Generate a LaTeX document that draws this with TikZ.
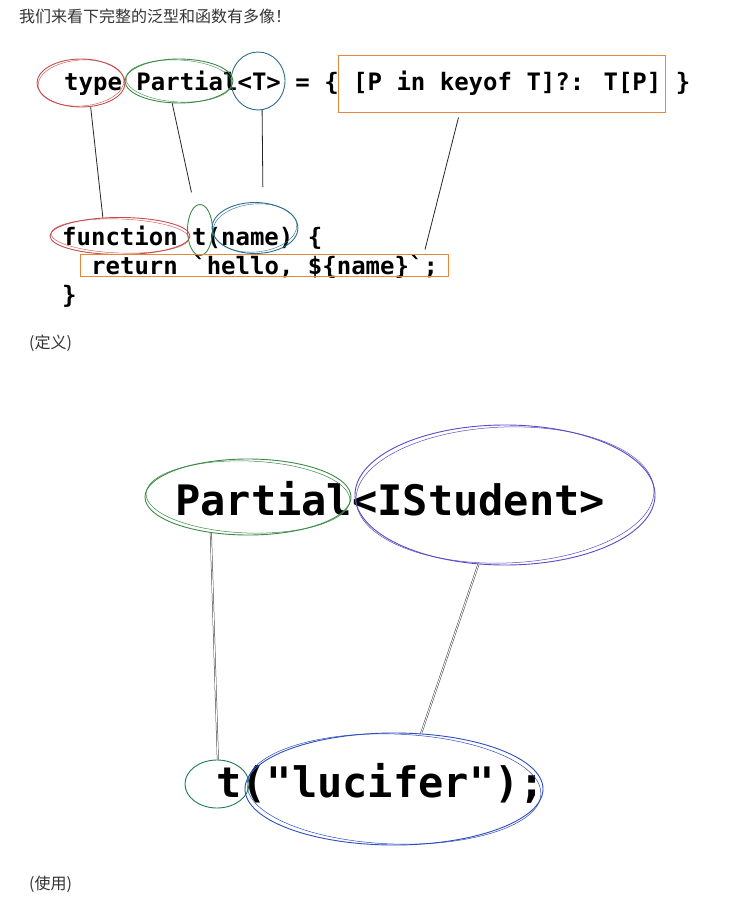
\documentclass[tikz,border=0pt]{standalone}
\usepackage{fontspec}
\newfontfamily\codefont{DejaVu Sans Mono}
\newfontfamily\cjkfont{Noto Sans CJK SC}
\usetikzlibrary{shapes.geometric}

\definecolor{skred}{HTML}{C94C4C}
\definecolor{skgreen}{HTML}{3D8A48}
\definecolor{skteal}{HTML}{2C6F8C}
\definecolor{skorange}{HTML}{E8873A}
\definecolor{skpurple}{HTML}{5B4BC4}
\definecolor{skblue}{HTML}{2F4DBE}
\definecolor{skdkgreen}{HTML}{1F7A55}

\tikzset{
  ring/.style={ellipse,draw,inner sep=0pt,line width=0.9pt},
  box/.style={rectangle,draw,inner sep=0pt,line width=0.9pt},
  code/.style={anchor=base west,inner sep=0pt,font=\codefont\bfseries\fontsize{24}{29}\selectfont},
  bigcode/.style={anchor=base west,inner sep=0pt,font=\codefont\bfseries\fontsize{42}{50}\selectfont},
  note/.style={anchor=west,inner sep=0pt,text=black!80,font=\cjkfont\fontsize{16}{19}\selectfont},
  link/.style={line width=0.8pt,black!85},
  duallink/.style={draw=black!75,line width=0.5pt,double,double distance=0.9pt},
}

\begin{document}
\begin{tikzpicture}[x=1pt,y=-1pt]
  \useasboundingbox[fill=white] (0,0) rectangle (747,901);

  \node[note] (intro) at (19,16) {我们来看下完整的泛型和函数有多像！};

  % definition
  \node[code] (defL) at (64,91) {type Partial<T> = \{ [P in keyof T]?: T[P] \}};
  \node[code] (fnL) at (62,245) {function t(name) \{};
  \node[code] (retL) at (91,274) {return \symbol{96}hello, \$\{name\}\symbol{96};};
  \node[code] (clsL) at (62,303) {\}};
  \node[note] (defN) at (29,343) {(定义)};

  \node[ring,draw=skred,minimum width=88,minimum height=48] (tyE) at (81,83) {};
  \node[ring,draw=skgreen,minimum width=108,minimum height=44] (paE) at (179,81) {};
  \node[ring,draw=skteal,minimum width=54,minimum height=58] (tpE) at (258,81) {};
  \node[box,draw=skorange,minimum width=327,minimum height=57] (kvB) at (501.5,83.5) {};
  \node[ring,draw=skred,minimum width=140,minimum height=37] (fnE) at (120,236) {};
  \node[ring,draw=skgreen,minimum width=25,minimum height=51] (tE) at (200,230) {};
  \node[ring,draw=skteal,minimum width=86,minimum height=51] (nmE) at (255,228) {};
  \node[box,draw=skorange,minimum width=368,minimum height=22] (retB) at (264,265) {};

  % second strokes, hand drawn look
  \draw[skred,line width=0.4pt,rotate around={4:(tyE.center)}] (tyE.center) ellipse [x radius=43,y radius=23];
  \draw[skgreen,line width=0.4pt,rotate around={-3:(paE.center)}] (paE.center) ellipse [x radius=53,y radius=21];
  \draw[skred,line width=0.4pt,rotate around={-2:(fnE.center)}] (fnE.center) ellipse [x radius=69,y radius=17];
  \draw[skteal,line width=0.4pt,rotate around={5:(nmE.center)}] (nmE.center) ellipse [x radius=42,y radius=24];

  \draw[link] (tyE.-68) -- (fnE.133);
  \draw[link,shorten >=12pt] (paE.-107) -- ([xshift=-6pt]tE.north);
  \draw[link,shorten >=15pt] (tpE.-82) -- ([xshift=8pt]nmE.north);
  \draw[link] ([xshift=-43pt,yshift=-5pt]kvB.south) -- ([xshift=161pt,yshift=4pt]retB.north);

  % usage
  \node[bigcode] (useL) at (175,515) {Partial<IStudent>};
  \node[bigcode] (callL) at (216,797) {t(\symbol{34}lucifer\symbol{34});};
  \node[note] (useN) at (29,884) {(使用)};

  \node[ring,draw=skgreen,minimum width=206,minimum height=76] (bpE) at (248,497) {};
  \node[ring,draw=skpurple,minimum width=300,minimum height=140] (psE) at (505,495) {};
  \node[ring,draw=skdkgreen,minimum width=64,minimum height=48] (tsE) at (217,784) {};
  \node[ring,draw=skblue,minimum width=298,minimum height=112] (luE) at (394,789) {};

  \draw[skgreen,line width=0.5pt,rotate around={-2:(bpE.center)}] (bpE.center) ellipse [x radius=102,y radius=36];
  \draw[skpurple,line width=0.5pt,rotate around={2:(psE.center)}] (psE.center) ellipse [x radius=149,y radius=68];
  \draw[skblue,line width=0.5pt,rotate around={-2:(luE.center)}] (luE.center) ellipse [x radius=147,y radius=55];

  \draw[duallink] (bpE.-136) -- (tsE.88);
  \draw[duallink] (psE.-111) -- (luE.64);
\end{tikzpicture}
\end{document}
